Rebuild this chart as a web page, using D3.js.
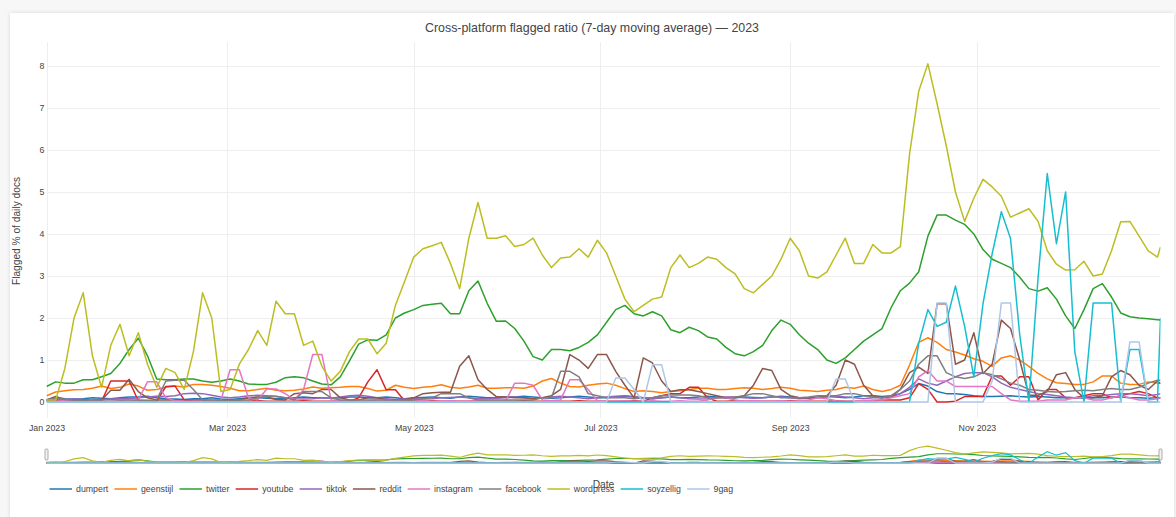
<!DOCTYPE html>
<html><head><meta charset="utf-8">
<script src="https://cdn.jsdelivr.net/npm/d3@7"></script>
<style>
html,body{margin:0;padding:0;background:#f7f7f7;width:1176px;height:517px;overflow:hidden}
#card{position:absolute;left:10px;top:13px;width:1164px;height:530px;background:#fff;box-shadow:0 0 4px rgba(0,0,0,0.13)}
svg{position:absolute;left:0;top:0}
text{font-family:"Liberation Sans",Arial,sans-serif;fill:#444}
</style></head><body><div id="card"></div><svg id="chart" width="1176" height="517"></svg>
<script>
// sample days (every 3 days from Jan 1 2023, plus Dec 31)
const sampleDays = d3.range(0, 364, 3).concat([364]);
const seriesNames = ["dumpert","geenstijl","twitter","youtube","tiktok","reddit","instagram","facebook","wordpress","soyzellig","9gag"];
const seriesColors = ["#1f77b4","#ff7f0e","#2ca02c","#d62728","#9467bd","#8c564b","#e377c2","#7f7f7f","#bcbd22","#17becf","#aec7e8"];
const yTicks = [0,1,2,3,4,5,6,7,8];
const chartTitle = "Cross-platform flagged ratio (7-day moving average) — 2023";
const xTitle = "Date";
const yTitle = "Flagged % of daily docs";

const dumpert = [
0.05,0.1,0.08,0.07,0.08,0.1,0.09,0.08,0.1,0.12,
0.12,0.14,0.1,0.08,0.07,0.06,0.08,0.08,0.1,0.07,
0.06,0.08,0.1,0.1,0.09,0.08,0.08,0.1,0.12,0.1,
0.1,0.09,0.1,0.12,0.12,0.1,0.1,0.12,0.1,0.08,
0.1,0.11,0.12,0.1,0.09,0.12,0.14,0.12,0.1,0.1,
0.12,0.12,0.14,0.12,0.1,0.09,0.1,0.12,0.14,0.12,
0.1,0.1,0.12,0.14,0.12,0.1,0.08,0.1,0.12,0.1,
0.1,0.12,0.14,0.12,0.1,0.1,0.12,0.11,0.1,0.12,
0.14,0.12,0.1,0.1,0.12,0.14,0.12,0.1,0.12,0.15,
0.15,0.13,0.15,0.2,0.3,0.44,0.38,0.25,0.2,0.2,
0.18,0.15,0.13,0.13,0.14,0.15,0.13,0.12,0.13,0.12,
0.1,0.1,0.1,0.09,0.1,0.1,0.12,0.12,0.1,0.1,
0.09,0.1,0.1];
const geenstijl = [
0.15,0.24,0.27,0.29,0.3,0.33,0.38,0.32,0.35,0.43,
0.38,0.28,0.3,0.35,0.38,0.36,0.42,0.42,0.4,0.37,
0.33,0.27,0.27,0.3,0.33,0.28,0.27,0.28,0.31,0.36,
0.33,0.34,0.35,0.37,0.37,0.32,0.26,0.28,0.4,0.35,
0.32,0.35,0.37,0.41,0.35,0.33,0.36,0.4,0.33,0.33,
0.34,0.34,0.33,0.38,0.5,0.56,0.45,0.37,0.36,0.4,
0.43,0.45,0.4,0.32,0.25,0.27,0.25,0.22,0.25,0.27,
0.3,0.33,0.33,0.3,0.3,0.32,0.34,0.33,0.3,0.32,
0.35,0.33,0.28,0.27,0.25,0.28,0.3,0.35,0.33,0.38,
0.3,0.25,0.3,0.4,0.88,1.42,1.53,1.42,1.25,1.19,
1.12,1.03,0.97,0.85,1.05,1.1,1.0,0.85,0.68,0.55,
0.46,0.44,0.42,0.42,0.48,0.62,0.62,0.45,0.42,0.42,
0.48,0.45,0.45];
const twitter = [
0.37,0.48,0.45,0.45,0.53,0.53,0.6,0.68,0.92,1.25,
1.52,1.1,0.55,0.53,0.53,0.55,0.55,0.5,0.47,0.5,
0.55,0.5,0.43,0.42,0.42,0.47,0.58,0.6,0.58,0.5,
0.43,0.41,0.6,0.98,1.38,1.48,1.47,1.6,2.0,2.12,
2.2,2.3,2.33,2.35,2.1,2.1,2.65,2.88,2.35,1.92,
1.93,1.75,1.45,1.08,1.0,1.25,1.25,1.22,1.3,1.42,
1.6,1.9,2.2,2.3,2.1,2.05,2.15,2.05,1.72,1.65,
1.78,1.7,1.55,1.5,1.3,1.15,1.1,1.2,1.35,1.7,
1.95,1.85,1.6,1.4,1.25,1.0,0.92,1.05,1.25,1.45,
1.6,1.75,2.25,2.65,2.83,3.1,3.95,4.45,4.45,4.33,
4.23,4.0,3.63,3.4,3.3,3.2,2.97,2.7,2.64,2.72,
2.45,2.05,1.75,2.2,2.7,2.82,2.5,2.12,2.03,2.0,
1.98,1.96,1.95];
const youtube = [
0.02,0.03,0.02,0.02,0.03,0.02,0.02,0.5,0.5,0.5,
0.03,0.02,0.02,0.37,0.38,0.05,0.02,0.02,0.02,0.02,
0.02,0.02,0.02,0.03,0.02,0.02,0.02,0.02,0.03,0.02,
0.02,0.02,0.02,0.02,0.1,0.48,0.77,0.29,0.29,0.03,
0.02,0.02,0.03,0.02,0.02,0.02,0.02,0.03,0.02,0.02,
0.02,0.02,0.03,0.02,0.02,0.02,0.02,0.02,0.03,0.02,
0.02,0.02,0.02,0.02,0.03,0.02,0.1,0.15,0.2,0.2,
0.35,0.35,0.1,0.02,0.02,0.03,0.02,0.02,0.02,0.02,
0.02,0.03,0.02,0.02,0.02,0.02,0.03,0.02,0.02,0.02,
0.02,0.05,0.05,0.05,0.1,0.44,0.3,0.0,0.0,0.02,
0.13,0.13,0.13,0.62,0.62,0.4,0.6,0.6,0.05,0.3,
0.3,0.1,0.1,0.15,0.2,0.2,0.1,0.15,0.2,0.25,
0.2,0.1,0.1];
const tiktok = [
0.05,0.06,0.06,0.07,0.06,0.05,0.06,0.07,0.08,0.08,
0.1,0.12,0.14,0.13,0.15,0.2,0.21,0.2,0.16,0.12,
0.1,0.12,0.15,0.16,0.15,0.14,0.1,0.08,0.07,0.08,
0.1,0.09,0.12,0.15,0.16,0.14,0.1,0.08,0.06,0.07,
0.08,0.07,0.08,0.1,0.11,0.12,0.1,0.08,0.08,0.09,
0.1,0.12,0.1,0.08,0.1,0.12,0.14,0.12,0.1,0.08,
0.1,0.12,0.14,0.15,0.13,0.1,0.08,0.1,0.12,0.1,
0.08,0.07,0.08,0.1,0.12,0.12,0.1,0.09,0.1,0.12,
0.12,0.1,0.08,0.09,0.1,0.12,0.14,0.12,0.1,0.08,
0.1,0.1,0.12,0.2,0.35,0.55,0.45,0.4,0.5,0.6,
0.68,0.7,0.7,0.6,0.45,0.35,0.3,0.25,0.2,0.18,
0.15,0.12,0.1,0.12,0.15,0.15,0.18,0.2,0.2,0.18,
0.15,0.18,0.2];
const reddit = [
0.05,0.13,0.06,0.05,0.04,0.03,0.05,0.28,0.28,0.54,
0.25,0.1,0.05,0.05,0.05,0.05,0.05,0.05,0.04,0.05,
0.05,0.05,0.1,0.12,0.12,0.06,0.05,0.2,0.22,0.2,
0.3,0.3,0.1,0.05,0.05,0.1,0.1,0.05,0.05,0.05,
0.1,0.2,0.22,0.23,0.23,0.85,1.1,0.53,0.3,0.13,
0.12,0.1,0.1,0.08,0.1,0.15,0.3,1.13,1.0,0.8,
1.13,1.13,0.73,0.4,0.1,1.05,0.93,0.5,0.25,0.29,
0.29,0.25,0.2,0.15,0.1,0.1,0.15,0.4,0.8,0.75,
0.3,0.15,0.1,0.1,0.1,0.15,0.4,1.0,0.9,0.4,
0.15,0.1,0.12,0.3,0.7,0.83,0.68,2.34,2.34,0.9,
1.0,1.65,0.68,0.9,1.95,1.75,1.0,0.16,0.16,0.25,
0.65,0.7,0.3,0.1,0.1,0.15,0.6,0.75,0.65,0.4,
0.3,0.5,0.44];
const instagram = [
0.02,0.02,0.03,0.02,0.02,0.03,0.02,0.02,0.03,0.02,
0.05,0.48,0.48,0.1,0.03,0.02,0.02,0.02,0.03,0.05,
0.77,0.77,0.1,0.05,0.31,0.31,0.2,0.05,0.3,1.13,
1.13,0.05,0.03,0.02,0.02,0.03,0.05,0.05,0.03,0.02,
0.02,0.03,0.02,0.02,0.03,0.02,0.02,0.03,0.02,0.02,
0.02,0.45,0.45,0.4,0.05,0.03,0.05,0.53,0.53,0.3,
0.03,0.02,0.02,0.03,0.02,0.02,0.03,0.02,0.02,0.03,
0.02,0.02,0.05,0.1,0.1,0.05,0.02,0.03,0.02,0.02,
0.03,0.02,0.02,0.05,0.1,0.08,0.03,0.02,0.02,0.03,
0.05,0.05,0.1,0.15,0.2,0.6,0.75,0.5,0.5,0.37,
0.37,0.37,0.37,0.37,0.2,0.05,0.02,0.02,0.02,0.05,
0.05,0.05,0.1,0.1,0.05,0.05,0.1,0.15,0.1,0.05,
0.05,0.08,0.1];
const facebook = [
0.05,0.1,0.06,0.05,0.04,0.05,0.05,0.06,0.05,0.05,
0.05,0.04,0.05,0.5,0.52,0.52,0.3,0.05,0.05,0.04,
0.04,0.05,0.05,0.1,0.13,0.13,0.1,0.05,0.25,0.25,
0.25,0.1,0.05,0.05,0.05,0.05,0.05,0.05,0.05,0.05,
0.05,0.08,0.1,0.2,0.2,0.2,0.1,0.05,0.05,0.05,
0.05,0.05,0.05,0.05,0.1,0.1,0.73,0.73,0.6,0.2,
0.15,0.1,0.1,0.1,0.08,0.1,0.1,0.15,0.17,0.17,
0.17,0.15,0.1,0.1,0.1,0.12,0.15,0.2,0.2,0.15,
0.1,0.1,0.1,0.12,0.15,0.15,0.15,0.2,0.2,0.15,
0.12,0.1,0.15,0.3,0.5,0.9,1.1,1.1,0.7,0.6,
0.56,0.6,0.7,0.65,0.55,0.45,0.4,0.3,0.28,0.25,
0.24,0.25,0.27,0.28,0.27,0.3,0.32,0.3,0.3,0.35,
0.45,0.52,0.52];
const wordpress = [
0.05,0.05,0.8,2.0,2.6,1.1,0.35,1.35,1.85,1.1,
1.65,0.9,0.35,0.8,0.7,0.3,1.2,2.6,2.0,0.25,
0.3,0.9,1.25,1.7,1.35,2.4,2.1,2.1,1.35,1.45,
0.85,0.5,0.73,1.2,1.5,1.5,1.15,1.4,2.3,2.87,
3.45,3.65,3.72,3.8,3.3,2.7,3.9,4.75,3.9,3.9,
3.96,3.7,3.75,3.9,3.5,3.2,3.43,3.45,3.65,3.45,
3.85,3.55,3.0,2.45,2.15,2.3,2.45,2.5,3.2,3.5,
3.2,3.3,3.45,3.4,3.2,3.05,2.7,2.6,2.8,3.0,
3.4,3.9,3.6,3.0,2.95,3.1,3.5,3.9,3.3,3.3,
3.75,3.55,3.55,3.7,5.9,7.4,8.05,7.1,6.1,5.0,
4.3,4.85,5.3,5.12,4.9,4.4,4.5,4.6,4.3,3.6,
3.28,3.14,3.15,3.35,3.0,3.05,3.6,4.29,4.3,3.95,
3.6,3.45,3.69];
const soyzellig = [
0,0,0,0,0,0,0,0,0,0,
0,0,0,0,0,0,0,0,0,0,
0,0,0,0,0,0,0,0,0,0,
0,0,0,0,0,0,0,0,0,0,
0,0,0,0,0,0,0,0,0,0,
0,0,0,0,0,0,0,0,0,0,
0,0,0,0,0,0,0,0,0,0,
0,0,0,0,0,0,0,0,0,0,
0,0,0,0,0,0,0,0,0,0,
0,0,0,0,0,1.4,2.2,1.8,1.9,2.76,
1.8,0.6,2.34,3.53,4.53,3.89,1.6,0,2.96,5.44,
3.77,5.0,1.2,0,2.36,2.36,2.36,0,1.25,1.25,
0,0,2.0];
const ninegag = [
0,0,0,0,0,0,0,0,0,0,
0,0,0,0,0,0,0,0,0,0,
0,0,0,0,0,0,0,0,0,0,
0,0,0,0,0,0,0,0,0,0,
0,0,0,0,0,0,0,0,0,0,
0,0,0,0,0,0,0,0,0,0,
0,0,0.57,0.57,0.3,0,0.89,0.89,0,0,
0,0,0,0,0,0,0,0,0,0,
0,0,0,0,0,0,0.55,0.55,0,0,
0,0,0,0,0,0,0,2.36,2.36,0,
0,0,0,0.5,2.36,2.36,0,0,0,0,
0,0,0,0,0,0,0,0,1.43,1.43,
0,0,0];

const seriesValues = [dumpert,geenstijl,twitter,youtube,tiktok,reddit,instagram,facebook,wordpress,soyzellig,ninegag];

const start = new Date(2023,0,1), end = new Date(2023,11,31);
const dates = sampleDays.map(d => d3.timeDay.offset(start, d));

const L = 46.5, R = 1160.5, T = 42, B = 418;
const x = d3.scaleTime().domain([start, end]).range([L, R]);
const y = d3.scaleLinear().domain([-0.38, 8.57]).range([B, T]);
const yS = d3.scaleLinear().domain([-0.38, 8.57]).range([464, 445]);

const svg = d3.select("#chart");
svg.append("defs").append("clipPath").attr("id","clip")
  .append("rect").attr("x",L).attr("y",T).attr("width",R-L).attr("height",B-T);

// grid
const xTickVals = d3.timeMonth.every(2).range(start, d3.timeDay.offset(end,1));
svg.append("g").selectAll("line").data(xTickVals).join("line")
  .attr("x1",d=>Math.round(x(d))+0.5).attr("x2",d=>Math.round(x(d))+0.5)
  .attr("y1",T).attr("y2",B).attr("stroke","#eee").attr("stroke-width",1);
svg.append("g").selectAll("line").data(yTicks).join("line")
  .attr("x1",L).attr("x2",R)
  .attr("y1",d=>Math.round(y(d))+0.5).attr("y2",d=>Math.round(y(d))+0.5)
  .attr("stroke","#eee").attr("stroke-width",1);

// y tick labels
svg.append("g").selectAll("text").data(yTicks).join("text")
  .attr("x",44.5).attr("y",d=>y(d)+3).attr("text-anchor","end")
  .style("font-size","8.8px").text(d=>d);

// x axis labels
const xAxis = d3.axisBottom(x).tickValues(xTickVals).tickFormat(d3.timeFormat("%b %Y")).tickSize(0).tickPadding(6.5);
const gx = svg.append("g").attr("transform",`translate(0,${B})`).call(xAxis);
gx.select(".domain").remove();
gx.selectAll("text").style("font-size","8.8px").style("fill","#444").attr("font-family",null);

// lines
const line = d3.line().x((d,i)=>x(dates[i])).y(d=>y(d));
const lineS = d3.line().x((d,i)=>x(dates[i])).y(d=>yS(d));
const gLines = svg.append("g").attr("clip-path","url(#clip)");
seriesValues.forEach((vals,k)=>{
  gLines.append("path").datum(vals).attr("d",line).attr("fill","none")
    .attr("stroke",seriesColors[k]).attr("stroke-width",1.5).attr("stroke-linejoin","round");
});

// range slider
const gS = svg.append("g");
seriesValues.forEach((vals,k)=>{
  gS.append("path").datum(vals).attr("d",lineS).attr("fill","none")
    .attr("stroke",seriesColors[k]).attr("stroke-width",1.2);
});
[L, R].forEach(px=>{
  gS.append("rect").attr("x",px-1.5).attr("y",449).attr("width",3).attr("height",11)
    .attr("rx",1).attr("fill","#f2f2f2").attr("stroke","#999").attr("stroke-width",0.8);
});

// titles
svg.append("text").attr("x",592).attr("y",32).attr("text-anchor","middle")
  .style("font-size","12.4px").text(chartTitle);
svg.append("text").attr("transform","translate(20,231) rotate(-90)").attr("text-anchor","middle")
  .style("font-size","10.2px").text(yTitle);

// legend
const gL = svg.append("g");
let lx = 47;
const ly = 489;
seriesNames.forEach((name,k)=>{
  gL.append("line").attr("x1",lx+2.5).attr("x2",lx+25).attr("y1",ly).attr("y2",ly)
    .attr("stroke",seriesColors[k]).attr("stroke-width",1.5);
  const t = gL.append("text").attr("x",lx+29).attr("y",ly+3.2).style("font-size","8.8px").text(name);
  const w = t.node().getComputedTextLength();
  lx = lx + 29 + w + 3.7;
});
svg.append("text").attr("x",(L+R)/2).attr("y",488).attr("text-anchor","middle")
  .style("font-size","10.2px").text(xTitle);
</script></body></html>
